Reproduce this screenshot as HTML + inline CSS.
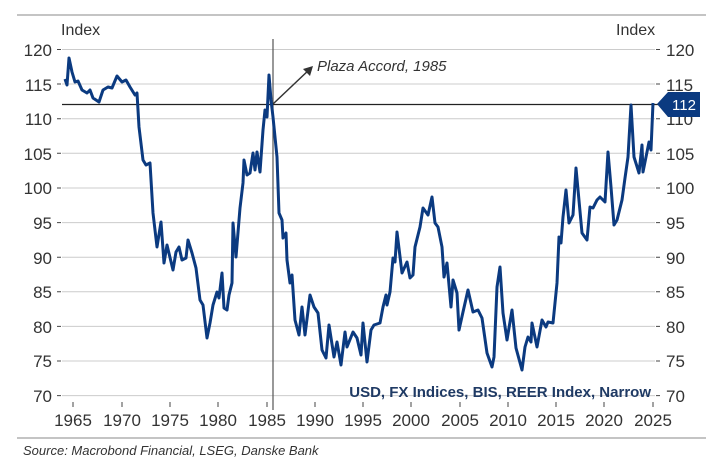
<!DOCTYPE html>
<html><head><meta charset="utf-8"><style>
html,body{margin:0;padding:0;background:#fff;}
svg{display:block;font-family:"Liberation Sans",sans-serif;}
</style></head><body>
<svg width="706" height="462" viewBox="0 0 706 462">
<line x1="17" y1="15" x2="706" y2="15" stroke="#888" stroke-width="1"/>
<line x1="17" y1="438" x2="706" y2="438" stroke="#888" stroke-width="1"/>
<g stroke="#ccc" stroke-width="1">
<line x1="62" y1="49.5" x2="655" y2="49.5"/><line x1="62" y1="84" x2="655" y2="84"/>
<line x1="62" y1="118.7" x2="655" y2="118.7"/><line x1="62" y1="153.3" x2="655" y2="153.3"/>
<line x1="62" y1="188" x2="655" y2="188"/><line x1="62" y1="222.6" x2="655" y2="222.6"/>
<line x1="62" y1="257.2" x2="655" y2="257.2"/><line x1="62" y1="291.8" x2="655" y2="291.8"/>
<line x1="62" y1="326.4" x2="655" y2="326.4"/><line x1="62" y1="361" x2="655" y2="361"/>
<line x1="62" y1="395.6" x2="655" y2="395.6"/>
</g>
<g stroke="#444" stroke-width="1">
<path d="M57 49.5h4M57 84h4M57 118.7h4M57 153.3h4M57 188h4M57 222.6h4M57 257.2h4M57 291.8h4M57 326.4h4M57 361h4M57 395.6h4"/>
<path d="M656 49.5h4M656 84h4M656 118.7h4M656 153.3h4M656 188h4M656 222.6h4M656 257.2h4M656 291.8h4M656 326.4h4M656 361h4M656 395.6h4"/>
<path d="M73 402v5M122 402v5M170 402v5M218 402v5M267 402v5M315 402v5M363 402v5M411 402v5M460 402v5M508 402v5M556 402v5M604 402v5M653 402v5"/>
</g>
<g font-size="17" fill="#333" text-anchor="end">
<text x="52" y="56">120</text><text x="52" y="91">115</text><text x="52" y="125">110</text><text x="52" y="160">105</text><text x="52" y="194">100</text><text x="52" y="229">95</text><text x="52" y="264">90</text><text x="52" y="298">85</text><text x="52" y="333">80</text><text x="52" y="367">75</text><text x="52" y="402">70</text>
</g>
<g font-size="17" fill="#333">
<text x="666" y="56">120</text><text x="666" y="91">115</text><text x="666" y="125">110</text><text x="666" y="160">105</text><text x="666" y="194">100</text><text x="666" y="229">95</text><text x="666" y="264">90</text><text x="666" y="298">85</text><text x="666" y="333">80</text><text x="666" y="367">75</text><text x="666" y="402">70</text>
</g>
<g font-size="17" fill="#333" text-anchor="middle">
<text x="73" y="426">1965</text><text x="122" y="426">1970</text><text x="170" y="426">1975</text><text x="218" y="426">1980</text><text x="267" y="426">1985</text><text x="315" y="426">1990</text><text x="363" y="426">1995</text><text x="411" y="426">2000</text><text x="460" y="426">2005</text><text x="508" y="426">2010</text><text x="556" y="426">2015</text><text x="604" y="426">2020</text><text x="653" y="426">2025</text>
</g>
<text x="61" y="35" font-size="16" fill="#333">Index</text>
<text x="616" y="35" font-size="16" fill="#333">Index</text>
<line x1="273" y1="39" x2="273" y2="410" stroke="#555" stroke-width="1.2"/>
<line x1="62" y1="104.5" x2="660" y2="104.5" stroke="#222" stroke-width="1.2"/>
<line x1="273" y1="104" x2="311" y2="68" stroke="#333" stroke-width="1.5"/>
<path d="M313 66 L303 69 L310 76 Z" fill="#333"/>
<text x="317" y="71" font-size="15" font-style="italic" fill="#333">Plaza Accord, 1985</text>
<polyline fill="none" stroke="#0b3a80" stroke-width="3" stroke-linejoin="round" points="65,79 67,85 69,58 72,72 75,82 78,81 82,90 87,93 90,90 93,98 99,102 103,90 108,87 112,88 117,76 122,82 126,80 130,87 135,95 137,93 139,127 143,160 146,165 150,163 153,213 157,247 161,222 164,263 167,245 173,270 176,252 179,247 182,260 186,258 188,240 192,253 196,268 200,300 203,305 207,338 210,323 213,305 217,292 219,298 222,273 224,308 227,310 229,295 232,283 233,223 236,257 240,208 243,183 244,160 247,175 250,173 253,153 255,170 257,152 260,172 263,130 265,110 267,117 269,75 271,100 273,117 277,157 279,213 282,220 283,238 286,233 287,260 290,283 292,275 295,320 299,335 302,307 305,335 310,295 314,307 318,313 322,350 326,358 329,325 334,357 337,342 341,365 345,332 347,347 353,332 357,338 361,355 363,323 367,362 371,330 374,325 380,323 383,307 386,295 387,305 390,292 393,258 395,262 397,232 402,273 407,262 410,278 413,275 415,247 420,227 423,208 428,215 432,197 435,223 438,227 442,247 444,277 447,263 451,307 453,280 457,293 459,330 463,312 468,290 473,312 478,310 482,318 487,353 492,367 494,357 497,287 500,267 503,313 507,340 512,310 516,348 522,370 525,347 528,337 531,342 532,323 537,347 542,320 546,327 548,322 553,323 557,283 559,237 561,243 563,217 566,190 569,223 573,215 576,168 582,233 587,240 590,207 593,208 597,200 600,197 605,202 608,152 611,187 614,225 617,220 622,200 625,178 628,157 631,105 634,157 639,173 642,145 643,172 646,157 649,142 651,150 653,103"/>
<path d="M657 104 L668 92 L700 92 L700 117 L668 117 Z" fill="#0b3a80"/>
<text x="684" y="110" font-size="15" fill="#fff" text-anchor="middle">112</text>
<text x="651" y="397" font-size="15" font-weight="bold" fill="#1f3a64" text-anchor="end">USD, FX Indices, BIS, REER Index, Narrow</text>
<text x="23" y="455" font-size="13" font-style="italic" fill="#333">Source: Macrobond Financial, LSEG, Danske Bank</text>
</svg>
</body></html>
